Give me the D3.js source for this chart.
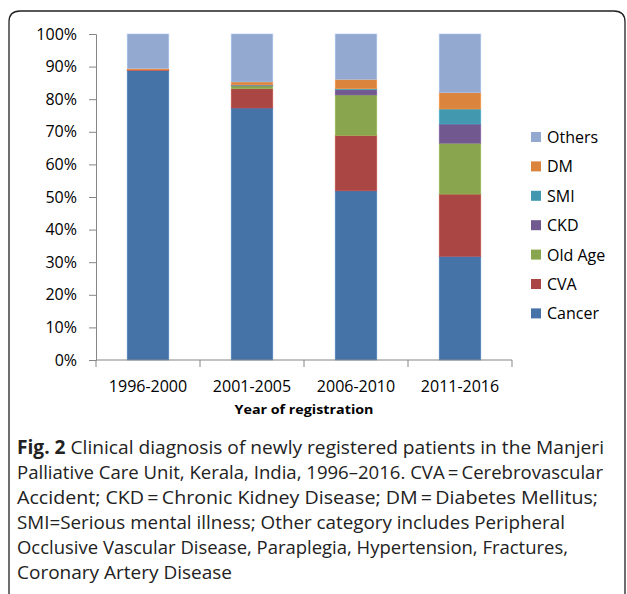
<!DOCTYPE html>
<html>
<head>
<meta charset="utf-8">
<script src="https://cdn.jsdelivr.net/npm/d3@7"></script>
<style>
  body { margin: 0; background: #fff; }
  svg { display: block; }
</style>
</head>
<body>
<div id="chart"></div>
<script>
const width = 627;
const height = 594;

// Categories and series (percent of patients per period)
const periods = ['1996-2000', '2001-2005', '2006-2010', '2011-2016'];
const seriesNames = ['Cancer', 'CVA', 'Old Age', 'CKD', 'SMI', 'DM', 'Others'];
const cancer = [88.8, 77.3, 51.9, 31.8];
const cva = [0.2, 5.9, 17.0, 19.1];
const oldAge = [0.0, 0.9, 12.4, 15.6];
const ckd = [0.0, 0.2, 1.6, 5.9];
const smi = [0.0, 0.1, 0.3, 4.6];
const dm = [0.4, 0.9, 2.9, 5.0];
const others = [10.6, 14.7, 13.9, 18.0];
const yTicks = [0, 10, 20, 30, 40, 50, 60, 70, 80, 90, 100];

const captionLines = [
  'Clinical diagnosis of newly registered patients in the Manjeri',
  'Palliative Care Unit, Kerala, India, 1996\u20132016. CVA\u2009=\u2009Cerebrovascular',
  'Accident; CKD\u2009=\u2009Chronic Kidney Disease; DM\u2009=\u2009Diabetes Mellitus;',
  'SMI=Serious mental illness; Other category includes Peripheral',
  'Occlusive Vascular Disease, Paraplegia, Hypertension, Fractures,',
  'Coronary Artery Disease'
];
const captionEnds = [604, 603, 598, 565, 568, 232];

const colors = {
  'Cancer': '#4572A7',
  'CVA': '#AA4643',
  'Old Age': '#89A54E',
  'CKD': '#71588F',
  'SMI': '#4198AF',
  'DM': '#DB843D',
  'Others': '#93A9CF'
};

// build row table for d3.stack
const columns = [cancer, cva, oldAge, ckd, smi, dm, others];
const table = periods.map((p, i) => {
  const row = { period: p };
  seriesNames.forEach((s, j) => (row[s] = columns[j][i]));
  return row;
});

const svg = d3
  .select('#chart')
  .append('svg')
  .attr('width', width)
  .attr('height', height);

// frame around figure
svg
  .append('path')
  .attr('d', 'M9,600 L9,22 Q9,11 20,11 L614,11 Q625,11 625,22 L625,600')
  .attr('fill', 'none')
  .attr('stroke', '#222')
  .attr('stroke-width', 1.3);

const x = d3.scaleBand().domain(periods).range([96, 512]).paddingInner(0.6).paddingOuter(0.3);
const y = d3.scaleLinear().domain([0, 100]).range([360, 34]);

const stacked = d3.stack().keys(seriesNames)(table);

svg
  .append('g')
  .selectAll('g')
  .data(stacked)
  .join('g')
  .attr('fill', (d) => colors[d.key])
  .attr('stroke', (d) => d3.color(colors[d.key]).brighter(0.4))
  .attr('stroke-width', 0.6)
  .selectAll('rect')
  .data((d) => d.filter((v) => v[1] - v[0] > 0))
  .join('rect')
  .attr('x', (d) => x(d.data.period))
  .attr('width', x.bandwidth())
  .attr('y', (d) => y(d[1]))
  .attr('height', (d) => y(d[0]) - y(d[1]));

// y axis
const yAxis = svg
  .append('g')
  .attr('transform', 'translate(96,0)')
  .call(d3.axisLeft(y).tickValues(yTicks).tickFormat((d) => d + '%').tickSize(7).tickPadding(12));
yAxis.select('.domain').attr('stroke', '#868686');
yAxis.selectAll('.tick line').attr('stroke', '#868686');
yAxis
  .selectAll('.tick text')
  .attr('fill', '#000')
  .style('font-family', 'Open Sans')
  .style('font-size', '16px');

// x axis with ticks at category boundaries
const boundaries = [96].concat(periods.map((p) => x(p) + x.bandwidth() / 2 + x.step() / 2));
const xAxis = svg.append('g').attr('transform', 'translate(0,360)');
xAxis
  .append('line')
  .attr('x1', 96)
  .attr('x2', 512)
  .attr('stroke', '#868686');
xAxis
  .selectAll('line.tk')
  .data(boundaries)
  .join('line')
  .attr('class', 'tk')
  .attr('x1', (d) => d)
  .attr('x2', (d) => d)
  .attr('y1', 0)
  .attr('y2', 7)
  .attr('stroke', '#868686');
xAxis
  .selectAll('text')
  .data(periods)
  .join('text')
  .attr('x', (d) => x(d) + x.bandwidth() / 2)
  .attr('y', 32)
  .attr('text-anchor', 'middle')
  .style('font-family', 'Open Sans')
  .style('font-size', '16px')
  .text((d) => d);

svg
  .append('text')
  .attr('x', 304)
  .attr('y', 414)
  .attr('text-anchor', 'middle')
  .attr('textLength', 139)
  .attr('lengthAdjust', 'spacingAndGlyphs')
  .style('font-family', 'Open Sans')
  .style('font-weight', 'bold')
  .style('font-size', '13px')
  .text('Year of registration');

// legend, top to bottom = stack top to bottom
const legend = svg
  .append('g')
  .selectAll('g')
  .data(seriesNames.slice().reverse())
  .join('g')
  .attr('transform', (d, i) => `translate(531,${137 + i * 29.4})`);
legend
  .append('rect')
  .attr('x', 0)
  .attr('y', -5)
  .attr('width', 10)
  .attr('height', 10)
  .attr('fill', (d) => colors[d]);
legend
  .append('text')
  .attr('x', 16)
  .attr('y', 6)
  .style('font-family', 'Open Sans')
  .style('font-size', '16px')
  .text((d) => d);

// caption, each line squeezed to the width seen in the figure
const cap = svg.append('g');
captionLines.forEach((line, i) => {
  const t = cap
    .append('text')
    .attr('x', 17)
    .attr('y', 454 + i * 25)
    .attr('fill', '#222')
    .style('font-family', 'Open Sans')
    .style('font-size', '19px');
  if (i === 0) {
    t.append('tspan').style('font-weight', 'bold').text('Fig. 2 ');
  }
  t.append('tspan').text(line);
  t.attr('textLength', captionEnds[i] - 17).attr('lengthAdjust', 'spacingAndGlyphs');
});
</script>
</body>
</html>
